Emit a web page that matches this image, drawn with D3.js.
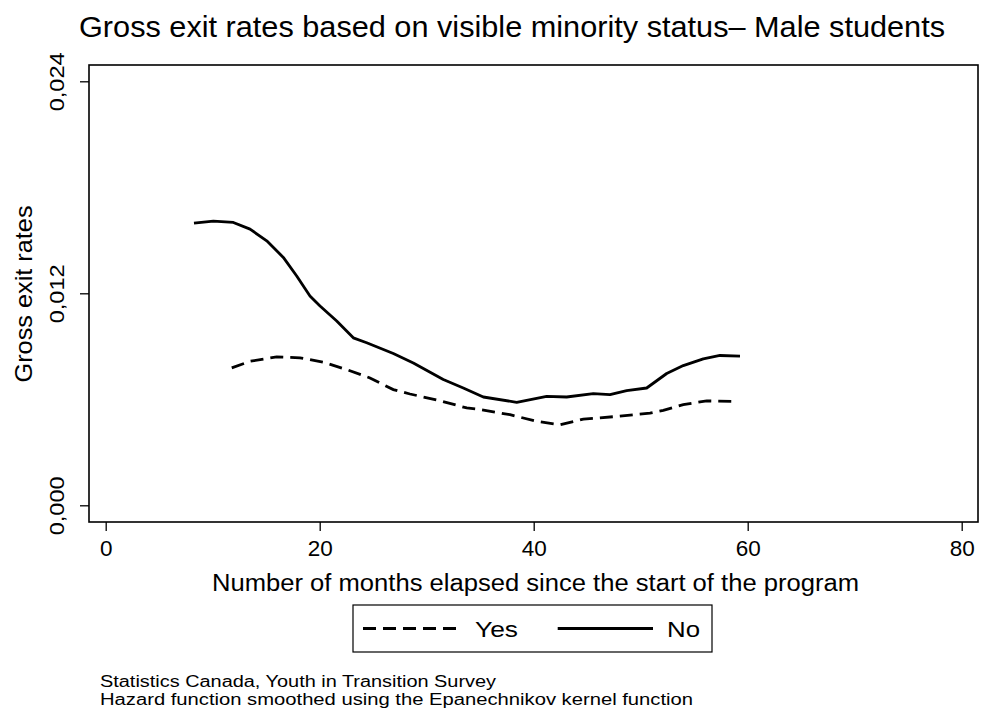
<!DOCTYPE html>
<html>
<head>
<meta charset="utf-8">
<script src="https://cdn.jsdelivr.net/npm/d3@7"></script>
<style>
  html, body { margin: 0; padding: 0; background: #fff; }
  svg { display: block; font-family: "Liberation Sans", Arial, Helvetica, sans-serif; }
</style>
</head>
<body>
<svg id="chart" width="981" height="711"></svg>
<script>
// Smoothed hazard estimates (months since program start, gross exit rate)
const monthsNo = [8.25, 10.06, 11.93, 13.49, 15.05, 16.6, 17.85, 19.09, 20.03, 21.59, 23.14, 24.39,
  26.88, 28.75, 31.55, 33.42, 35.29, 38.41, 41.21, 43.08, 45.57, 47.13, 48.69, 50.56, 52.43,
  53.98, 55.85, 57.41, 59.28];
const ratesNo = [0.01597, 0.01609, 0.01601, 0.01563, 0.01497, 0.01403, 0.01298, 0.01185, 0.01128,
  0.01043, 0.00948, 0.00920, 0.00859, 0.00806, 0.00712, 0.00664, 0.00613, 0.00583, 0.00617,
  0.00613, 0.00632, 0.00626, 0.00649, 0.00664, 0.00746, 0.00791, 0.00829, 0.00848, 0.00844];

const monthsYes = [11.78, 13.49, 15.98, 18.16, 20.34, 22.52, 24.7, 26.88, 28.44, 31.24, 33.74,
  34.67, 37.79, 40.28, 42.46, 44.64, 47.76, 50.87, 52.11, 53.98, 56.17, 58.5];
const ratesYes = [0.00778, 0.00815, 0.00840, 0.00835, 0.00810, 0.00768, 0.00721, 0.00655, 0.00630,
  0.00592, 0.00551, 0.00545, 0.00513, 0.00475, 0.00456, 0.00488, 0.00503, 0.00522, 0.00537,
  0.00570, 0.00591, 0.00588];

const xTicks = [0, 20, 40, 60, 80];
const yTicks = [0, 0.012, 0.024];
const yTickLabels = ["0,000", "0,012", "0,024"];
const legendLabels = ["Yes", "No"];

const titleText = "Gross exit rates based on visible minority status\u2013 Male students";
const xTitle = "Number of months elapsed since the start of the program";
const yTitle = "Gross exit rates";
const notes = ["Statistics Canada, Youth in Transition Survey",
  "Hazard function smoothed using the Epanechnikov kernel function"];

const svg = d3.select("#chart");

// plot region
const frame = { left: 89, right: 978, top: 65, bottom: 522 };
const x = d3.scaleLinear().domain([0, 80]).range([105.7, 961.7]);
const y = d3.scaleLinear().domain([0, 0.024]).range([505.3, 81.3]);

svg.append("rect")
  .attr("x", frame.left).attr("y", frame.top)
  .attr("width", frame.right - frame.left).attr("height", frame.bottom - frame.top)
  .attr("fill", "none").attr("stroke", "#000").attr("stroke-width", 1.6);

// y axis
const yAxis = d3.axisLeft(y).tickValues(yTicks).tickSize(9).tickFormat(() => "");
const gy = svg.append("g").attr("transform", `translate(${frame.left},0)`).call(yAxis);
gy.select(".domain").remove();
gy.selectAll(".tick line").attr("stroke", "#000").attr("stroke-width", 1.3);
gy.selectAll(".tick").append("text")
  .attr("transform", "translate(-32,0) rotate(-90)")
  .attr("text-anchor", "middle")
  .attr("dy", "0.35em")
  .attr("fill", "#000")
  .attr("textLength", 59).attr("lengthAdjust", "spacingAndGlyphs")
  .style("font-size", "21px")
  .text(d => yTickLabels[yTicks.indexOf(d)]);

// x axis
const xAxis = d3.axisBottom(x).tickValues(xTicks).tickSize(9).tickFormat(d3.format("d"));
const gx = svg.append("g").attr("transform", `translate(0,${frame.bottom})`).call(xAxis);
gx.select(".domain").remove();
gx.selectAll(".tick line").attr("stroke", "#000").attr("stroke-width", 1.3);
gx.selectAll(".tick text").attr("y", 34).attr("dy", 0).attr("fill", "#000")
  .style("font-size", "22.5px").style("font-family", "'Liberation Sans', Arial, sans-serif");

// axis titles
svg.append("text")
  .attr("x", 212).attr("y", 591)
  .attr("textLength", 647).attr("lengthAdjust", "spacingAndGlyphs")
  .style("font-size", "23px").text(xTitle);
svg.append("text")
  .attr("transform", "translate(32,294) rotate(-90)")
  .attr("text-anchor", "middle")
  .attr("textLength", 177).attr("lengthAdjust", "spacingAndGlyphs")
  .style("font-size", "24px").text(yTitle);

// title
svg.append("text")
  .attr("x", 79).attr("y", 37)
  .attr("textLength", 866).attr("lengthAdjust", "spacingAndGlyphs")
  .style("font-size", "30px").text(titleText);

// curves
const line = d3.line().x(d => x(d[0])).y(d => y(d[1]));
const seriesNo = monthsNo.map((m, i) => [m, ratesNo[i]]);
const seriesYes = monthsYes.map((m, i) => [m, ratesYes[i]]);

svg.append("path").datum(seriesYes).attr("d", line)
  .attr("fill", "none").attr("stroke", "#000").attr("stroke-width", 2.8)
  .attr("stroke-dasharray", "13,7");
svg.append("path").datum(seriesNo).attr("d", line)
  .attr("fill", "none").attr("stroke", "#000").attr("stroke-width", 2.8)
  .attr("stroke-linejoin", "round");

// legend
const lg = svg.append("g");
lg.append("rect").attr("x", 353).attr("y", 605).attr("width", 359).attr("height", 47)
  .attr("fill", "#fff").attr("stroke", "#000").attr("stroke-width", 1.2);
lg.append("line").attr("x1", 363).attr("x2", 458).attr("y1", 628.5).attr("y2", 628.5)
  .attr("stroke", "#000").attr("stroke-width", 2.8).attr("stroke-dasharray", "13,7");
lg.append("text").attr("x", 475).attr("y", 637)
  .attr("textLength", 43).attr("lengthAdjust", "spacingAndGlyphs")
  .style("font-size", "22px").text(legendLabels[0]);
lg.append("line").attr("x1", 557.7).attr("x2", 653).attr("y1", 628.5).attr("y2", 628.5)
  .attr("stroke", "#000").attr("stroke-width", 2.8);
lg.append("text").attr("x", 667).attr("y", 637)
  .attr("textLength", 33).attr("lengthAdjust", "spacingAndGlyphs")
  .style("font-size", "22px").text(legendLabels[1]);

// source notes below the legend
const noteWidths = [396, 593];
svg.selectAll("text.note").data(notes).enter().append("text")
  .attr("class", "note")
  .attr("x", 100).attr("y", (d, i) => 686.5 + i * 18.5)
  .attr("textLength", (d, i) => noteWidths[i]).attr("lengthAdjust", "spacingAndGlyphs")
  .style("font-size", "16px").text(d => d);
</script>
</body>
</html>
